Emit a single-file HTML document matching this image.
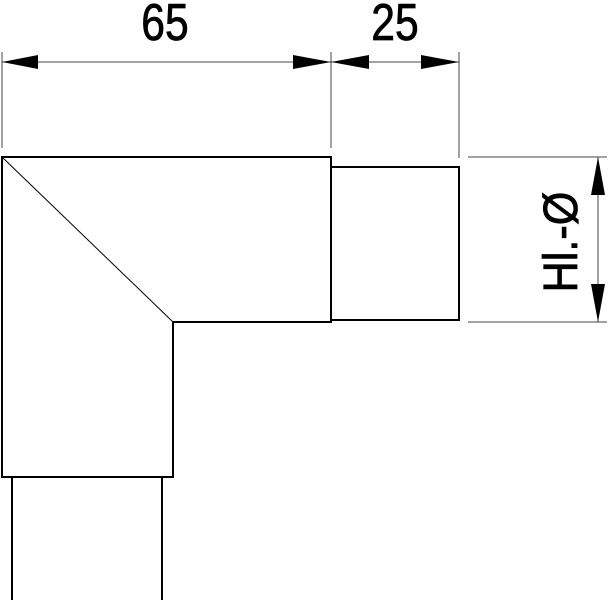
<!DOCTYPE html><html><head><style>body{margin:0;background:#fff}svg{display:block}</style></head><body>
<svg width="609" height="600" viewBox="0 0 609 600" xmlns="http://www.w3.org/2000/svg">
<g stroke="#000" fill="none">
<g stroke-width="1" stroke="#444">
<line x1="2" y1="52" x2="2" y2="148"/><line x1="331" y1="52" x2="331" y2="148"/><line x1="459" y1="52" x2="459" y2="158"/>
<line x1="2" y1="62" x2="459" y2="62"/>
<line x1="468" y1="157" x2="607" y2="157"/><line x1="468" y1="322" x2="607" y2="322"/>
<line x1="598" y1="157" x2="598" y2="322"/>
<line x1="2" y1="157" x2="173" y2="322" stroke="#000"/>
</g>
<g stroke-width="2">
<path d="M2 157 H331 V322 H173 V477 H2 Z"/>
<path d="M331 167 H459 V320 H331"/>
<path d="M12 477 V600 M162 477 V600"/>
</g>
</g>
<g fill="#000">
<polygon points="2,62 38,55 38,69"/><polygon points="331,62 293,55 293,69"/>
<polygon points="331,62 369,55 369,69"/><polygon points="459,62 421,55 421,69"/>
<polygon points="598,157 591,195 605,195"/><polygon points="598,322 591,284 605,284"/>
</g>
<g font-family="Liberation Sans, sans-serif" text-anchor="middle" fill="#000" stroke="#000" stroke-width="0.8">
<text transform="translate(165,40) scale(0.82,1)" font-size="52">65</text>
<text transform="translate(395,40) scale(0.82,1)" font-size="52">25</text>
<text transform="translate(577,242) rotate(-90) scale(0.9,1)" font-size="48">Hl.-Ø</text>
</g>
</svg></body></html>
